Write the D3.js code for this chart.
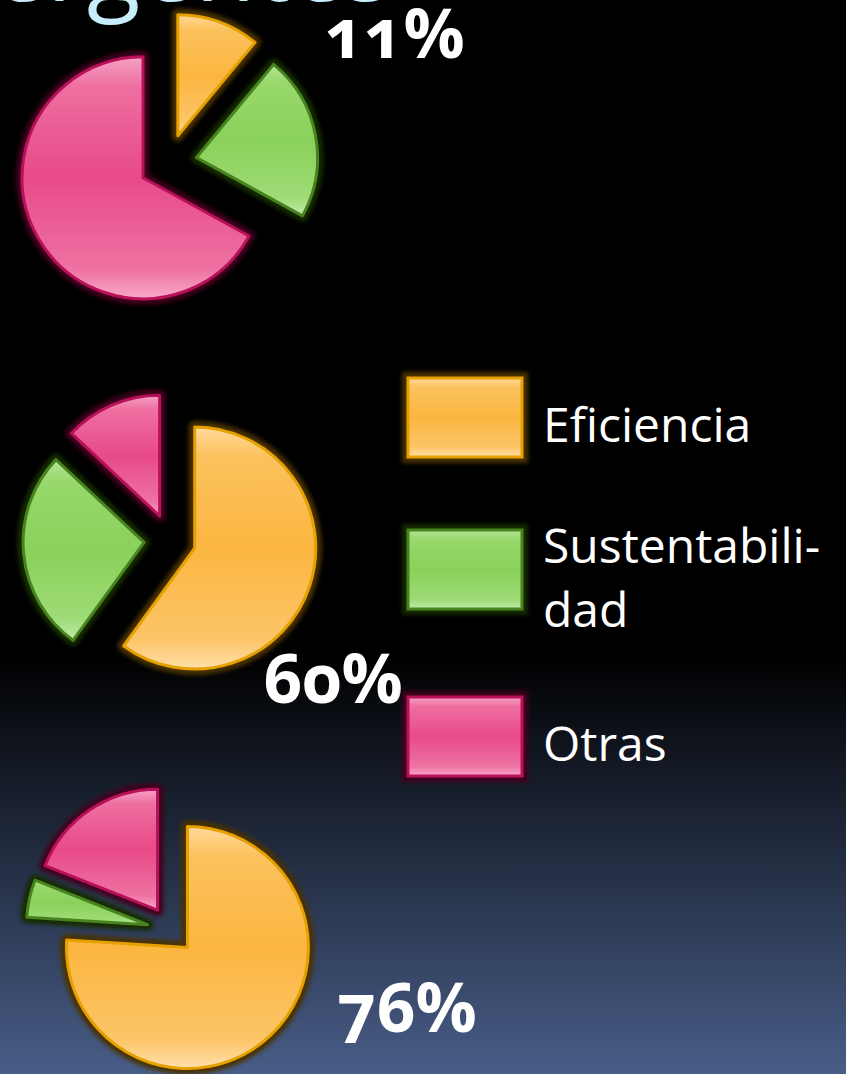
<!DOCTYPE html>
<html>
<head>
<meta charset="utf-8">
<script src="https://cdn.jsdelivr.net/npm/d3@7"></script>
<style>
  html, body { margin: 0; padding: 0; background: #000; }
  svg { display: block; }
  text { font-family: "Open Sans", "Noto Sans", sans-serif; fill: #fff; }
</style>
</head>
<body>
<script>
const width = 846
const height = 1074

// data
const categories = ['Eficiencia', 'Sustentabilidad', 'Otras']
const legendLabels = [['Eficiencia'], ['Sustentabili-', 'dad'], ['Otras']]
const pie1 = [11, 22, 67]
const pie2 = [60, 27, 13]
const pie3 = [76, 5, 19]
const series = [pie1, pie2, pie3]
const titleText = 'emergentes'

// layout (not data)
const layout = [
  {cx: 168, cy: 163, explode: 29, lx: 325, ly: 58},
  {cx: 170, cy: 540, explode: 26, lx: 263, ly: 703},
  {cx: 171, cy: 930, explode: 24, lx: 337, ly: 1032},
]
const radius = 121

const palette = {
  Eficiencia:      {stops: ['#ffd99b', '#fcc25e', '#fbb640', '#fcc568', '#ffdfa9'], edge: '#e6a000', glow: '#4a3000'},
  Sustentabilidad: {stops: ['#b4e496', '#98d86c', '#8ad15a', '#9edb76', '#c2eaab'], edge: '#478420', glow: '#162a06'},
  Otras:           {stops: ['#f5a2c3', '#ee6fa0', '#e84a88', '#ee72a2', '#f8a9c8'], edge: '#b8105a', glow: '#42041f'},
}

const svg = d3.select('body').append('svg')
  .attr('width', width)
  .attr('height', height)

const defs = svg.append('defs')

const bg = defs.append('linearGradient')
  .attr('id', 'bg').attr('x1', 0).attr('y1', 0).attr('x2', 0).attr('y2', 1)
bg.append('stop').attr('offset', 0).attr('stop-color', '#000')
bg.append('stop').attr('offset', 0.61).attr('stop-color', '#000')
bg.append('stop').attr('offset', 1).attr('stop-color', '#485d87')

categories.forEach((c, i) => {
  const g = defs.append('linearGradient')
    .attr('id', 'grad' + i).attr('x1', 0).attr('y1', 0).attr('x2', 0).attr('y2', 1)
  const offs = [0, 0.12, 0.5, 0.88, 1]
  palette[c].stops.forEach((s, j) => {
    g.append('stop').attr('offset', offs[j]).attr('stop-color', s)
  })
})

defs.append('filter').attr('id', 'blur')
  .attr('x', '-20%').attr('y', '-20%').attr('width', '140%').attr('height', '140%')
  .append('feGaussianBlur').attr('stdDeviation', 2)

svg.append('rect')
  .attr('width', width).attr('height', height)
  .attr('fill', 'url(#bg)')

// cut-off slide title at the top
svg.append('text')
  .attr('x', 392).attr('y', 1)
  .attr('text-anchor', 'end')
  .style('font-size', '98px')
  .style('fill', '#c7edfc')
  .text(titleText)

const pie = d3.pie().sort(null).value(d => d)
const arc = d3.arc().innerRadius(0).outerRadius(radius)

series.forEach((vals, k) => {
  const L = layout[k]
  const arcs = pie(vals)
  const g = svg.append('g')
    .attr('transform', `translate(${L.cx},${L.cy})`)

  const slice = g.selectAll('.slice')
    .data(arcs)
    .join('g')
    .attr('class', 'slice')
    .attr('transform', d => {
      const m = (d.startAngle + d.endAngle) / 2
      return `translate(${Math.sin(m) * L.explode},${-Math.cos(m) * L.explode})`
    })

  slice.append('path')
    .attr('d', arc)
    .attr('fill', 'none')
    .attr('stroke', (d, i) => palette[categories[i]].glow)
    .attr('stroke-width', 12)
    .attr('stroke-linejoin', 'round')
    .attr('filter', 'url(#blur)')

  slice.append('path')
    .attr('d', arc)
    .attr('fill', (d, i) => `url(#grad${i})`)
    .attr('stroke', (d, i) => palette[categories[i]].edge)
    .attr('stroke-width', 3)
    .attr('stroke-linejoin', 'round')

  svg.append('text')
    .attr('x', L.lx).attr('y', L.ly)
    .style('font-size', '68px')
    .style('font-weight', 700)
    .style('font-feature-settings', '"onum" 1')
    .style('font-variant-numeric', 'oldstyle-nums')
    .text(d3.format('.0%')(vals[0] / d3.sum(vals)))
})

// legend
const legendY = [378, 530, 697]
const legend = svg.append('g')
  .selectAll('g')
  .data(categories)
  .join('g')
  .attr('transform', (d, i) => `translate(408,${legendY[i]})`)

legend.append('rect')
  .attr('width', 114).attr('height', 79)
  .attr('fill', 'none')
  .attr('stroke', d => palette[d].glow)
  .attr('stroke-width', 12)
  .attr('filter', 'url(#blur)')

legend.append('rect')
  .attr('width', 114).attr('height', 79)
  .attr('fill', (d, i) => `url(#grad${i})`)
  .attr('stroke', d => palette[d].edge)
  .attr('stroke-width', 3)

legend.append('text')
  .attr('x', 135)
  .attr('y', (d, i) => i === 1 ? 33 : 64)
  .style('font-size', '48px')
  .selectAll('tspan')
  .data((d, i) => legendLabels[i])
  .join('tspan')
  .attr('x', 135)
  .attr('dy', (d, j) => j === 0 ? 0 : 64)
  .text(d => d)
</script>
</body>
</html>
